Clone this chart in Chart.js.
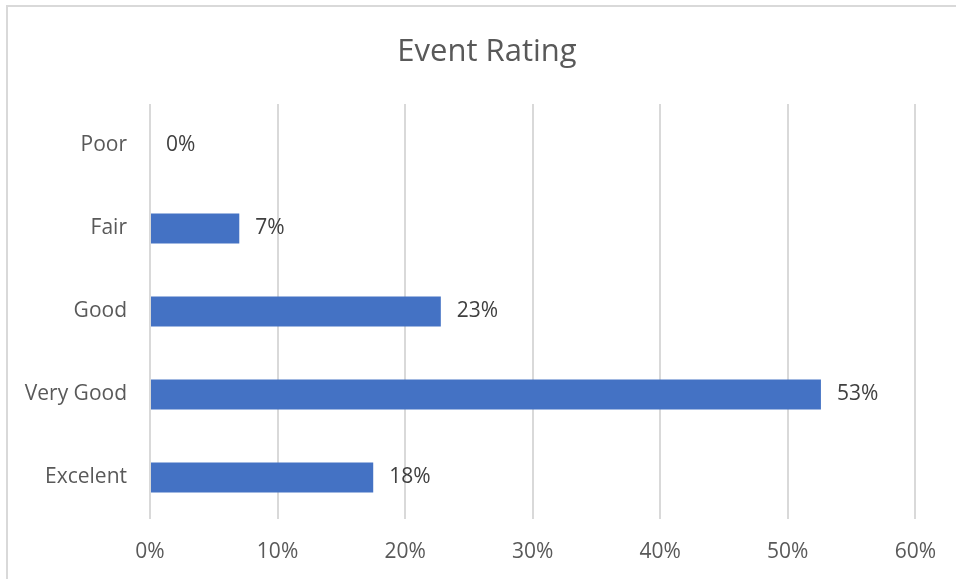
<!DOCTYPE html>
<html>
<head>
<meta charset="utf-8">
<title>Event Rating</title>
<script src="https://cdn.jsdelivr.net/npm/chart.js@4/dist/chart.umd.min.js"></script>
<style>
  html, body { margin: 0; padding: 0; background: #fff; }
  #wrap { position: relative; width: 956px; height: 579px; }
</style>
</head>
<body>
<div id="wrap"><canvas id="rating-chart"></canvas></div>
<script>
const categories = ['Poor', 'Fair', 'Good', 'Very Good', 'Excelent'];
const ratings = [0, 7.0, 22.8, 52.6, 17.5];
const valueLabels = ['0%', '7%', '23%', '53%', '18%'];
const chartTitle = 'Event Rating';
const xMin = 0;
const xMax = 60;
const xStep = 10;

const FONT = '"Open Sans", "Liberation Sans", sans-serif';

// light grey frame (top + left edge only, the rest is cropped) and the title,
// which sits centred on the whole frame rather than on the padded box
const frame = {
  id: 'frame',
  beforeDraw(chart) {
    const ctx = chart.ctx;
    ctx.save();
    ctx.fillStyle = '#d9d9d9';
    ctx.fillRect(6, 5, chart.width, 2);
    ctx.fillRect(6, 5, 2, chart.height);
    ctx.font = '31px ' + FONT;
    ctx.fillStyle = '#595959';
    ctx.textAlign = 'center';
    ctx.textBaseline = 'alphabetic';
    ctx.fillText(chartTitle, 487, 61);
    ctx.restore();
  }
};

// value labels just past the end of each bar
const barLabels = {
  id: 'barLabels',
  afterDatasetsDraw(chart) {
    const ctx = chart.ctx;
    const meta = chart.getDatasetMeta(0);
    ctx.save();
    ctx.font = '21px ' + FONT;
    ctx.fillStyle = '#404040';
    ctx.textAlign = 'left';
    ctx.textBaseline = 'middle';
    meta.data.forEach((bar, i) => {
      ctx.fillText(valueLabels[i], bar.x + 16, bar.y);
    });
    ctx.restore();
  }
};

try {
  const el = document.getElementById('rating-chart');
  new Chart(el, {
    type: 'bar',
    data: {
      labels: categories,
      datasets: [{
        label: 'Rating',
        data: ratings,
        backgroundColor: '#4472c4',
        borderWidth: 0,
        barPercentage: 1,
        categoryPercentage: 0.36
      }]
    },
    options: {
      indexAxis: 'y',
      responsive: true,
      maintainAspectRatio: false,
      animation: false,
      layout: { padding: { top: 104, left: 0, right: 39, bottom: 0 } },
      plugins: {
        legend: { display: false },
        tooltip: { enabled: false },
        title: { display: false }
      },
      scales: {
        x: {
          min: xMin,
          max: xMax,
          ticks: {
            stepSize: xStep,
            color: '#595959',
            font: { family: FONT, size: 21 },
            padding: 20,
            callback: v => v + '%'
          },
          grid: { color: '#d9d9d9', lineWidth: 2, drawTicks: false },
          border: { display: false },
          afterFit(scale) { scale.height = 60; }
        },
        y: {
          ticks: {
            color: '#595959',
            font: { family: FONT, size: 21 },
            padding: 23
          },
          grid: { display: false, drawTicks: false },
          border: { display: false },
          afterFit(scale) { scale.width = 150; }
        }
      }
    },
    plugins: [frame, barLabels]
  });
} catch (e) {
  console.error('rating chart failed', e);
}
</script>
</body>
</html>
